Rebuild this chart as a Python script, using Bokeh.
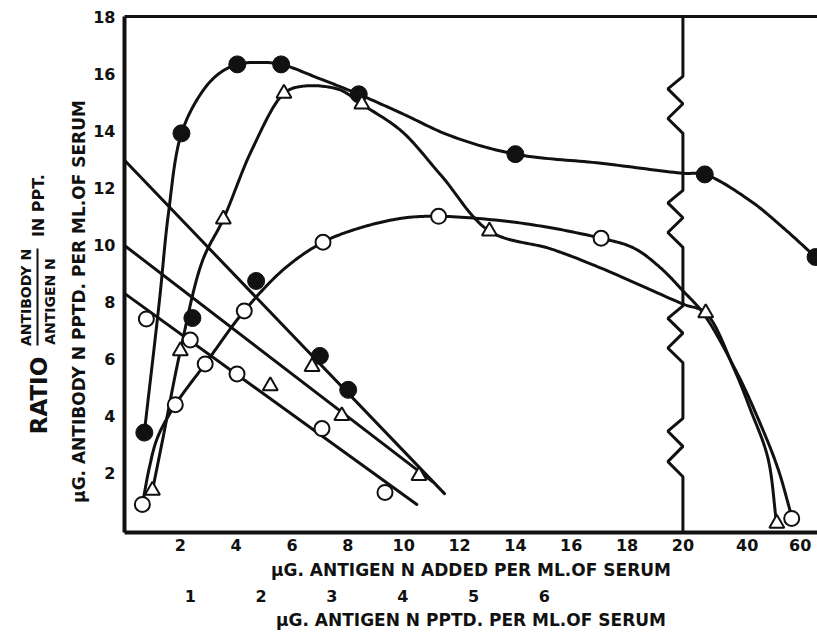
import numpy as np
from bokeh.plotting import figure
from bokeh.layouts import row
from bokeh.models import FixedTicker, LinearAxis, Range1d
from bokeh.core.properties import value
from bokeh.embed import file_html
from bokeh.resources import INLINE

# ---------------- data ----------------
solid_x = [0.71, 2.04, 4.04, 5.61, 8.39, 14.0, 26.8, 65.8]
solid_y = [3.40, 13.90, 16.32, 16.32, 15.27, 13.17, 12.46, 9.56]
tri_x = [1.0, 2.0, 3.54, 5.71, 8.5, 13.07, 27.1, 51.2]
tri_y = [1.37, 6.27, 10.89, 15.30, 14.92, 10.47, 7.6, 0.21]
open_x = [0.64, 1.82, 2.89, 4.29, 7.11, 11.25, 17.07, 56.8]
open_y = [0.88, 4.38, 5.81, 7.67, 10.08, 10.99, 10.22, 0.39]

solid_curve_x = [0.71, 1.25, 1.57, 2.04, 2.79, 3.39, 4.04, 4.82, 5.61, 6.96, 8.39, 9.93,
                 11.71, 14.0, 17.07, 20.04, 26.8, 41.4, 53.8, 65.8]
solid_curve_y = [3.40, 8.02, 11.06, 13.90, 15.37, 16.0, 16.32, 16.39, 16.32, 15.83, 15.27,
                 14.6, 13.8, 13.17, 12.85, 12.5, 12.46, 11.52, 10.57, 9.56]
tri_curve_x = [1.0, 1.36, 2.0, 2.79, 3.54, 4.57, 5.71, 6.36, 7.68, 8.5, 9.93, 11.36, 13.07,
               15.29, 17.07, 20.04, 27.1, 35.8, 41.4, 47.8, 51.1]
tri_curve_y = [1.37, 3.12, 6.27, 9.42, 10.89, 13.34, 15.30, 15.55, 15.44, 14.92, 13.97, 12.4,
               10.47, 9.84, 9.17, 7.91, 7.6, 5.67, 4.17, 2.52, 0.21]
open_curve_x = [0.64, 0.89, 1.18, 1.82, 2.89, 4.29, 5.75, 7.11, 8.39, 9.93, 11.25, 14.21,
                17.07, 18.25, 19.21, 20.04, 26.5, 37.0, 44.0, 51.5, 56.7]
open_curve_y = [0.88, 2.17, 3.22, 4.38, 5.81, 7.67, 9.17, 10.08, 10.57, 10.92, 10.99, 10.75,
                10.22, 9.87, 9.17, 8.37, 7.56, 5.46, 3.92, 2.17, 0.49]

ratio_solid_v = [1.03, 1.93, 2.83, 3.23]
ratio_solid_y = [7.42, 8.72, 6.09, 4.90]
ratio_tri_v = [2.13, 2.72, 3.14, 4.23]
ratio_tri_y = [5.04, 5.71, 3.99, 1.89]
ratio_open_v = [0.38, 1.00, 1.66, 2.86, 3.75]
ratio_open_y = [7.39, 6.65, 5.46, 3.54, 1.30]
line_top_v, line_top_y = [0.085, 4.59], [12.92, 1.26]
line_mid_v, line_mid_y = [0.085, 4.42], [9.94, 1.68]
line_bot_v, line_bot_y = [0.085, 4.20], [8.26, 0.88]

x_ticks = [2, 4, 6, 8, 10, 12, 14, 16, 18, 20, 40, 60]
pptd_ticks = [1, 2, 3, 4, 5, 6]
y_ticks = [2, 4, 6, 8, 10, 12, 14, 16, 18]

axis_break = 20
zigzag_spans = [(15.9, 13.9), (11.9, 9.9), (7.85, 5.85), (3.9, 1.85)]

# ---------------- scales ----------------
X_BREAKS = [0, 20, 40, 60, 80]
U_BREAKS = [0, 20, 22.3, 24.2, 26.1]


def to_u(x):
    return np.interp(np.asarray(x, dtype=float), X_BREAKS, U_BREAKS)


PPTD_U0, PPTD_SCALE = -0.18, 2.536


def pptd_to_u(v):
    return PPTD_U0 + PPTD_SCALE * np.asarray(v, dtype=float)


def smooth(xs, ys, n=20, alpha=0.5):
    P = np.column_stack([xs, ys]).astype(float)
    P = np.vstack([2 * P[0] - P[1], P, 2 * P[-1] - P[-2]])
    out = []
    for i in range(1, len(P) - 2):
        p0, p1, p2, p3 = P[i - 1], P[i], P[i + 1], P[i + 2]
        t0 = 0.0
        t1 = t0 + max(np.linalg.norm(p1 - p0), 1e-6) ** alpha
        t2 = t1 + max(np.linalg.norm(p2 - p1), 1e-6) ** alpha
        t3 = t2 + max(np.linalg.norm(p3 - p2), 1e-6) ** alpha
        for t in np.linspace(t1, t2, n, endpoint=False):
            A1 = (t1 - t) / (t1 - t0) * p0 + (t - t0) / (t1 - t0) * p1
            A2 = (t2 - t) / (t2 - t1) * p1 + (t - t1) / (t2 - t1) * p2
            A3 = (t3 - t) / (t3 - t2) * p2 + (t - t2) / (t3 - t2) * p3
            B1 = (t2 - t) / (t2 - t0) * A1 + (t - t0) / (t2 - t0) * A2
            B2 = (t3 - t) / (t3 - t1) * A2 + (t - t1) / (t3 - t1) * A3
            out.append((t2 - t) / (t2 - t1) * B1 + (t - t1) / (t2 - t1) * B2)
    out.append(P[-2])
    out = np.array(out)
    return out[:, 0], out[:, 1]


FONT = "DejaVu Sans"
INK = "#111111"
TOTAL_W, TOTAL_H = 817, 635
LEFT_W = 90

yr = Range1d(-0.105, 18.0)

p = figure(width=TOTAL_W - LEFT_W, height=TOTAL_H, x_range=Range1d(0, 24.82), y_range=yr,
           output_backend="svg", toolbar_location=None,
           min_border_left=122 - LEFT_W, min_border_right=0, min_border_top=16, min_border_bottom=103)
p.grid.visible = False
p.outline_line_color = None

yax = p.yaxis[0]
yax.ticker = FixedTicker(ticks=y_ticks)
xax = p.xaxis[0]
xax.ticker = FixedTicker(ticks=[float(u) for u in to_u(x_ticks)])
xax.major_label_overrides = {float(u): str(t) for u, t in zip(to_u(x_ticks), x_ticks)}

ax2 = LinearAxis(ticker=FixedTicker(ticks=[float(u) for u in pptd_to_u(pptd_ticks)]),
                 major_label_overrides={float(u): str(t) for u, t in zip(pptd_to_u(pptd_ticks), pptd_ticks)})
p.add_layout(ax2, "below")
top_ax = LinearAxis(ticker=FixedTicker(ticks=[]))
p.add_layout(top_ax, "above")

for ax in (yax, xax, ax2, top_ax):
    ax.major_tick_out = 0
    ax.major_tick_in = 0
    ax.minor_tick_out = 0
    ax.minor_tick_in = 0
    ax.axis_line_color = INK
    ax.major_label_text_font = FONT
    ax.major_label_text_font_style = "bold"
    ax.major_label_text_font_size = "16px"
    ax.major_label_text_color = INK
    ax.axis_label_text_font = FONT
    ax.axis_label_text_font_style = "bold"
    ax.axis_label_text_font_size = "17px"
    ax.axis_label_text_color = INK

yax.axis_line_width = 4
yax.major_label_standoff = 9

xax.axis_line_width = 4
xax.major_label_standoff = 6
xax.axis_label = "µG. ANTIGEN N ADDED PER ML.OF SERUM"
xax.axis_label_standoff = 6

ax2.axis_line_color = None
ax2.major_label_standoff = 7
ax2.axis_label = "µG. ANTIGEN N PPTD. PER ML.OF SERUM"
ax2.axis_label_standoff = 5

top_ax.axis_line_width = 3
top_ax.major_label_text_font_size = "0px"

u0 = float(to_u(axis_break))
w = 0.54
bx, by = [u0], [yr.end]
for a, b in zigzag_spans:
    d = a - b
    bx += [u0, u0 - w, u0, u0 - w, u0]
    by += [a, a - 0.22 * d, a - 0.48 * d, a - 0.74 * d, b]
bx.append(u0)
by.append(yr.start)
p.line(bx, by, line_width=3, line_color=INK)

for cx, cy in ((solid_curve_x, solid_curve_y), (tri_curve_x, tri_curve_y), (open_curve_x, open_curve_y)):
    sx, sy = smooth(to_u(cx), cy)
    p.line(sx, sy, line_width=3, line_color=INK, line_join="round", line_cap="round")

for lv, ly in ((line_top_v, line_top_y), (line_mid_v, line_mid_y), (line_bot_v, line_bot_y)):
    p.line(pptd_to_u(lv), ly, line_width=3, line_color=INK, line_cap="round")

p.scatter(to_u(solid_x), solid_y, marker="circle", size=17, fill_color=INK, line_color=INK)
p.scatter(pptd_to_u(ratio_solid_v), ratio_solid_y, marker="circle", size=17, fill_color=INK, line_color=INK)
p.scatter(to_u(tri_x), tri_y, marker="triangle", size=15, fill_color="white", line_color=INK, line_width=2)
p.scatter(pptd_to_u(ratio_tri_v), ratio_tri_y, marker="triangle", size=15, fill_color="white",
          line_color=INK, line_width=2)
p.scatter(to_u(open_x), open_y, marker="circle", size=15, fill_color="white", line_color=INK, line_width=2)
p.scatter(pptd_to_u(ratio_open_v), ratio_open_y, marker="circle", size=15, fill_color="white",
          line_color=INK, line_width=2)

# ---- y titles panel ----
q = figure(width=LEFT_W, height=TOTAL_H, x_range=Range1d(0, LEFT_W), y_range=yr,
           output_backend="svg", toolbar_location=None, x_axis_location=None, y_axis_location=None,
           min_border_left=0, min_border_right=0, min_border_top=16, min_border_bottom=103)
q.grid.visible = False
q.outline_line_color = None


def vtext(text, x, y, size, align="center"):
    q.text(x=[x], y=[y], text=[text], angle=np.pi / 2, text_align=align, text_baseline="middle",
           text_font=value(FONT), text_font_style="bold", text_font_size=size, text_color=INK)


bar_top, bar_bottom = 9.86, 6.46
q.line([37, 37], [bar_top, bar_bottom], line_width=2, line_color=INK)
vtext("ANTIBODY N", 25, 8.14, "14px")
vtext("ANTIGEN N", 49, 8.0, "14px")
vtext("IN PPT.", 38, bar_top + 0.4, "16px", align="left")
vtext("RATIO", 38, bar_bottom - 0.4, "23px", align="right")
vtext("µG. ANTIBODY N PPTD. PER ML.OF SERUM", 78, 8.0, "17px")

layout = row(q, p, spacing=0)
open("out.html", "w").write(file_html(layout, INLINE))
